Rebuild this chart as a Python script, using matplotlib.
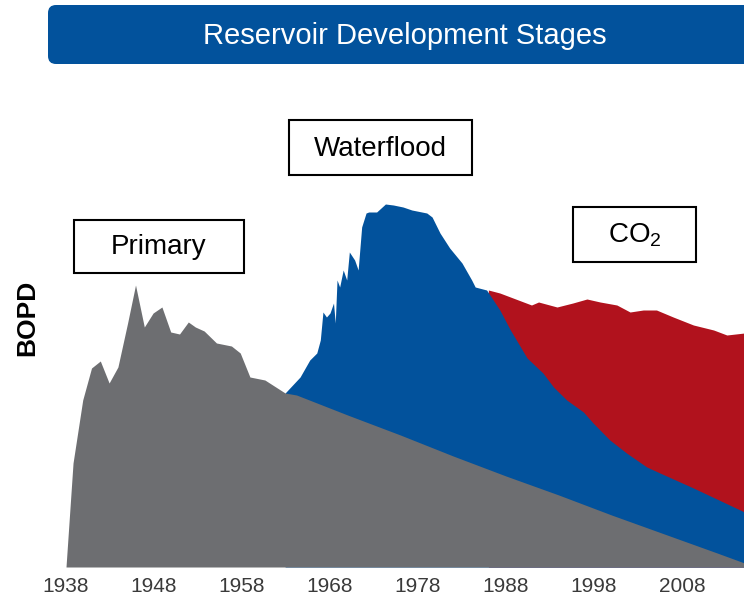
"""Reservoir development stages - stacked production areas (primary, waterflood, CO2)."""

import matplotlib
matplotlib.use("Agg")
import matplotlib.pyplot as plt
from matplotlib.patches import FancyBboxPatch, Rectangle

# production curves (relative BOPD units)
primary_years = [1938.0, 1938.8, 1939.9, 1940.9, 1941.9, 1942.9, 1943.9, 1945.0,
                 1945.9, 1946.9, 1947.9, 1948.9, 1949.9, 1950.9, 1951.9, 1952.7,
                 1953.7, 1955.1, 1956.8, 1957.8, 1958.9, 1960.6, 1962.9, 1964.2,
                 1970, 1976, 1982, 1988, 1994, 2000, 2006, 2012, 2015.1]
primary_bopd = [0, 104, 167, 199, 206, 184, 200, 244,
                282, 240, 254, 260, 235, 233, 245, 240,
                236, 224, 221, 214, 190, 187, 174, 172,
                152, 132, 111, 91, 72, 52, 33, 14, 4]

# cumulative (primary + waterflood)
waterflood_years = [1962.9, 1964.6, 1965.7, 1966.5, 1966.9, 1967.2, 1967.6, 1968.0,
                    1968.4, 1968.6, 1968.8, 1969.1, 1969.5, 1969.9, 1970.2, 1970.8,
                    1971.2, 1971.6, 1972.1, 1972.4, 1973.3, 1974.3, 1975.2, 1976.3,
                    1977.3, 1979.0, 1979.6, 1980.5, 1981.6, 1983.0, 1984.1, 1984.5,
                    1985.8, 1987.3, 1988.5, 1990.4, 1992.2, 1993.4, 1994.9, 1996.8,
                    1997.9, 1999.8, 2001.7, 2004.0, 2005.5, 2009.3, 2015.1]
waterflood_bopd = [174, 190, 207, 214, 227, 255, 250, 254,
                   264, 244, 287, 280, 297, 287, 315, 307,
                   297, 340, 354, 355, 355, 363, 362, 360,
                   357, 354, 350, 334, 319, 304, 287, 280,
                   277, 257, 237, 209, 194, 180, 167, 155,
                   144, 127, 114, 100, 94, 79, 55]

# cumulative (primary + waterflood + CO2)
co2_years = [1986.0, 1987.3, 1988.8, 1990.9, 1991.7, 1993.8, 1995.6, 1997.2,
             1998.7, 2000.6, 2002.1, 2003.6, 2005.1, 2007.0, 2009.3, 2011.6,
             2013.1, 2015.1]
co2_bopd = [277, 274, 269, 262, 265, 260, 264, 268,
            265, 262, 255, 257, 257, 250, 242, 237,
            232, 234]

tick_years = [1938, 1948, 1958, 1968, 1978, 1988, 1998, 2008]

GRAY = "#6d6e71"
BLUE = "#02529c"
RED = "#b1121d"

W, H = 744, 601
fig = plt.figure(figsize=(W / 100, H / 100), dpi=100)
fig.set_facecolor("white")

# main chart axes: bottom at y=567px, top at y=80px
ax = fig.add_axes([0, (H - 567) / H, 1, (567 - 80) / H])
ax.set_xlim(1930.5, 2015.05)
ax.set_ylim(0, 487)

# painter's order: red underneath, then blue, then gray on top
ax.fill_between(co2_years, 0, co2_bopd, color=RED, linewidth=0)
ax.fill_between(waterflood_years, 0, waterflood_bopd, color=BLUE, linewidth=0)
ax.fill_between(primary_years, 0, primary_bopd, color=GRAY, linewidth=0)

for s in ax.spines.values():
    s.set_visible(False)
ax.set_yticks([])
ax.set_xticks(tick_years)
ax.set_xticklabels([str(y) for y in tick_years])
ax.tick_params(axis="x", length=0, pad=7.5, labelsize=15, labelcolor="#3a3a3a")
for lbl in ax.get_xticklabels():
    lbl.set_family(["Liberation Sans", "DejaVu Sans"])

# overlay in pixel coordinates for banner and stage labels
ov = fig.add_axes([0, 0, 1, 1], facecolor="none")
ov.set_xlim(0, W)
ov.set_ylim(H, 0)
ov.axis("off")

ov.add_patch(FancyBboxPatch((48, 5), 760, 59, boxstyle="round,pad=0,rounding_size=8",
                            facecolor=BLUE, edgecolor="none"))
ov.text(405, 36, "Reservoir Development Stages", color="white", fontsize=21,
        family=["Liberation Sans", "DejaVu Sans"], ha="center", va="center")

ov.text(27, 318, "BOPD", rotation=90, fontsize=19, fontweight="bold",
        family=["Liberation Sans Narrow", "Liberation Sans", "DejaVu Sans"],
        ha="center", va="center", color="black")

boxes = [
    ((74, 220, 170, 53), "Primary"),
    ((289, 120, 183, 55), "Waterflood"),
    ((573, 207, 123, 55), r"CO$_\mathregular{2}$"),
]
for (x0, y0, bw, bh), label in boxes:
    ov.add_patch(Rectangle((x0, y0), bw, bh, facecolor="white", edgecolor="black", linewidth=1.5))
    ov.text(x0 + bw / 2, y0 + bh / 2 + 1, label, fontsize=20, color="black",
            family=["Liberation Sans", "DejaVu Sans"], ha="center", va="center")

fig.savefig("out.png", dpi=100, facecolor=fig.get_facecolor())
